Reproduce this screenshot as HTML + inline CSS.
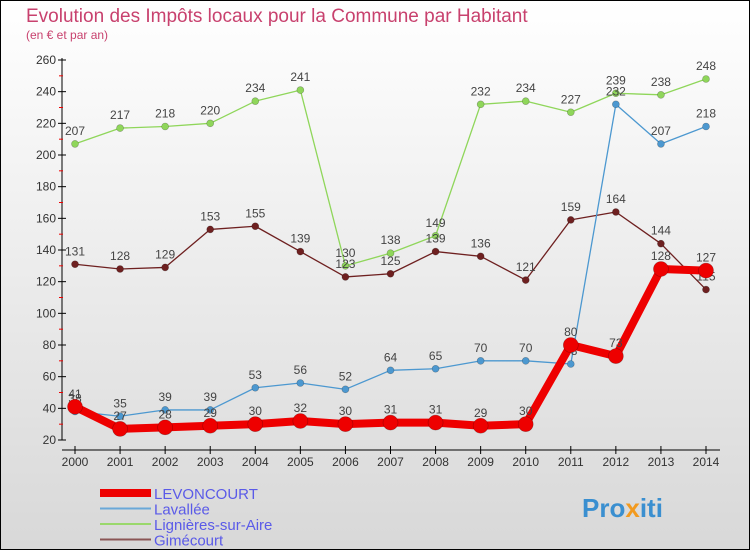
<!DOCTYPE html>
<html><head><meta charset="utf-8"><style>
body{margin:0;width:750px;height:550px;overflow:hidden}
svg{display:block;font-family:"Liberation Sans",sans-serif}
</style></head><body>
<svg id="c" width="750" height="550">
<defs><linearGradient id="bg" x1="0" y1="0" x2="0" y2="1"><stop offset="0" stop-color="#ffffff"/><stop offset="1" stop-color="#d8d8d8"/></linearGradient></defs>
<rect x="0.5" y="0.5" width="749" height="549" fill="url(#bg)" stroke="#000"/>
<text x="26" y="22" font-size="19" fill="#c8416e">Evolution des Impôts locaux pour la Commune par Habitant</text>
<text x="26" y="39" font-size="12" fill="#c8416e">(en € et par an)</text>
<g id="axes"></g><g id="series"></g><g id="legend"></g>
<text x="582" y="517" font-size="26" font-weight="bold" fill="#3a8fd0">Pro<tspan fill="#f29a1f">x</tspan>iti</text>
</svg>
<script>
const years=[2000,2001,2002,2003,2004,2005,2006,2007,2008,2009,2010,2011,2012,2013,2014];
const yTicks=[20,40,60,80,100,120,140,160,180,200,220,240,260];
const levoncourt=[41,27,28,29,30,32,30,31,31,29,30,80,73,128,127];
const lavallee=[38,35,39,39,53,56,52,64,65,70,70,68,232,207,218];
const lignieres=[207,217,218,220,234,241,130,138,149,232,234,227,239,238,248];
const gimecourt=[131,128,129,153,155,139,123,125,139,136,121,159,164,144,115];
const NS="http://www.w3.org/2000/svg";
const X=i=>75+i*(706-75)/14;
const Y=v=>440-(v-20)*380/240;
function mk(t,a,p){const e=document.createElementNS(NS,t);for(const k in a)e.setAttribute(k,a[k]);p.appendChild(e);return e;}
const ax=document.getElementById('axes');
let yl=mk('line',{x1:62,y1:58,x2:62,y2:440,stroke:'#000','stroke-width':1},ax);


let xl=mk('line',{x1:62,y1:450,x2:720,y2:450,stroke:'#000','stroke-width':1},ax);


yTicks.forEach((v,i)=>{
 mk('line',{x1:58,y1:Y(v),x2:66,y2:Y(v),stroke:'#000'},ax);
 if(i<yTicks.length-1)mk('line',{x1:59,y1:Y(v+10),x2:63,y2:Y(v+10),stroke:'#e00'},ax);
 const t=mk('text',{x:56,y:Y(v)+4,'font-size':12,'text-anchor':'end',fill:'#333'},ax);t.textContent=v;
 
 
});
years.forEach((y,i)=>{
 mk('line',{x1:X(i),y1:446,x2:X(i),y2:454,stroke:'#000'},ax);
 const t=mk('text',{x:X(i),y:466,'font-size':12,'text-anchor':'middle',fill:'#333'},ax);t.textContent=y;
 
 
});
const sg=document.getElementById('series');
function draw(data,color,w,r,name){
 const g=mk('g',{},sg);
 
 
 mk('polyline',{points:data.map((v,i)=>X(i)+','+Y(v)).join(' '),fill:'none',stroke:color,'stroke-width':w,'stroke-linejoin':'round'},g);
 data.forEach((v,i)=>{
  const c=mk('circle',{cx:X(i),cy:Y(v),r:r,fill:color,stroke:'rgba(0,0,0,0.3)','stroke-width':0.6},g);
  
  
  const t=mk('text',{x:X(i),y:Y(v)-9,'font-size':12,'text-anchor':'middle',fill:'#444'},g);t.textContent=v;
  
  
 });
}
draw(lignieres,'#8fd65a',1.3,3.5,'series-lignieres');
draw(gimecourt,'#6e2020',1.3,3.5,'series-gimecourt');
draw(lavallee,'#4c98d0',1.3,3.5,'series-lavallee');
draw(levoncourt,'#ee0000',8,7.5,'series-levoncourt');
const lg=document.getElementById('legend');
[['LEVONCOURT','#ee0000',8],['Lavallée','#6aa8d8',2],['Lignières-sur-Aire','#9ad86c',2],['Gimécourt','#8a5555',2]].forEach((e,i)=>{
 const y=493+i*15.5;
 const g=mk('g',{},lg);
 
 
 mk('line',{x1:100,y1:y,x2:151,y2:y,stroke:e[1],'stroke-width':e[2]},g);
 const t=mk('text',{x:154,y:y+6,'font-size':15,fill:'#5a5ae8'},g);t.textContent=e[0];
});
</script>
</body></html>
